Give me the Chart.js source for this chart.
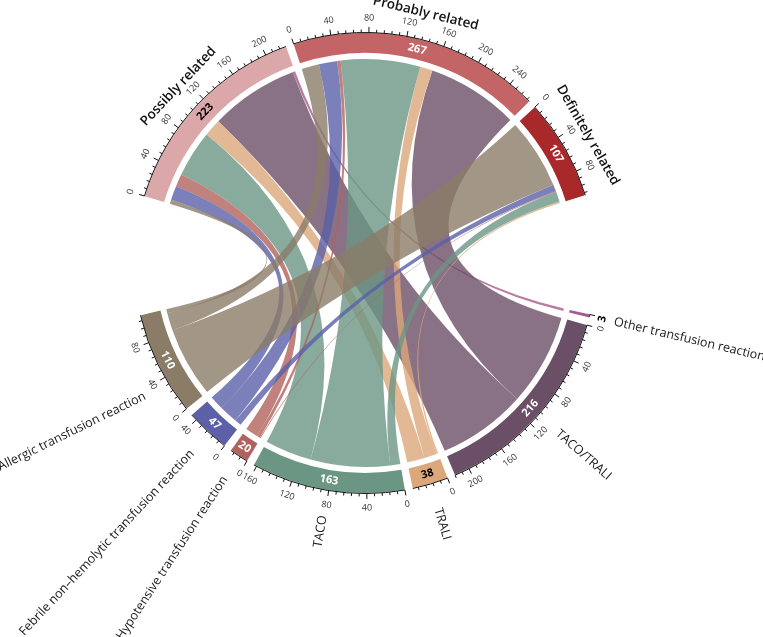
<!DOCTYPE html>
<html>
<head>
<meta charset="utf-8">
<script src="https://cdn.jsdelivr.net/npm/chart.js"></script>
<style>
  html, body { margin: 0; padding: 0; background: #ffffff; }
  #wrap { width: 763px; height: 637px; position: relative; }
</style>
</head>
<body>
<div id="wrap"><canvas id="chord"></canvas></div>
<script>
// ---------------- DATA ----------------
const reactionTypes = [
  'Other transfusion reaction',
  'TACO/TRALI',
  'TRALI',
  'TACO',
  'Hypotensive transfusion reaction',
  'Febrile non\u2013hemolytic transfusion reaction',
  'Allergic transfusion reaction'
];
const imputabilityLevels = ['Possibly related', 'Probably related', 'Definitely related'];

// number of reactions linking each imputability level to each reaction type (order of reactionTypes)
const possiblyRelated   = [3, 106, 21, 56, 15, 17, 5];
const probablyRelated   = [0, 110, 15, 95, 4, 22, 21];
const definitelyRelated = [0, 0, 2, 12, 1, 8, 84];

// axis ticks
const minorTickStep = 8;
const majorTickStep = 40;

// ---------------- STYLE ----------------
const reactionColors = ['#a65a8a', '#6b4f67', '#dca87b', '#6c9684', '#b2625d', '#5b60a9', '#8b7c68'];
const levelColors = ['#dca7a8', '#c36567', '#a9282a'];
const reactionCountColors = ['#000000', '#ffffff', '#000000', '#ffffff', '#ffffff', '#ffffff', '#ffffff'];
const levelCountColors = ['#000000', '#ffffff', '#ffffff'];
const reactionLabelShift = [0, 0, 0, 0, 0, 3, 22];
const ribbonAlpha = 0.8;

const SMALL_GAP_DEG = 2;
const BIG_GAP_DEG = 30;
const START_DEG = 12.9;

// ---------------- DERIVED ----------------
const matrix = [possiblyRelated, probablyRelated, definitelyRelated];
const reactionTotals = reactionTypes.map((_, j) => matrix.reduce((s, row) => s + row[j], 0));
const levelTotals = matrix.map(row => row.reduce((a, b) => a + b, 0));
const grandTotal = levelTotals.reduce((a, b) => a + b, 0);
const nSmallGaps = (reactionTypes.length - 1) + (imputabilityLevels.length - 1);
const degPerUnit = (360 - 2 * BIG_GAP_DEG - nSmallGaps * SMALL_GAP_DEG) / (2 * grandTotal);
const smallGapUnits = SMALL_GAP_DEG / degPerUnit;
const bigGapUnits = BIG_GAP_DEG / degPerUnit;

const slices = [];
reactionTypes.forEach((_, j) => {
  if (j) slices.push({ kind: 'gap', value: smallGapUnits });
  slices.push({ kind: 'reaction', index: j, value: reactionTotals[j] });
});
slices.push({ kind: 'gap', value: bigGapUnits });
imputabilityLevels.forEach((_, i) => {
  if (i) slices.push({ kind: 'gap', value: smallGapUnits });
  slices.push({ kind: 'level', index: i, value: levelTotals[i] });
});
slices.push({ kind: 'gap', value: bigGapUnits });

function hexA(hex, a) {
  const n = parseInt(hex.slice(1), 16);
  return 'rgba(' + ((n >> 16) & 255) + ',' + ((n >> 8) & 255) + ',' + (n & 255) + ',' + a + ')';
}
const TAU = Math.PI * 2;
function norm(a) { return ((a % TAU) + TAU) % TAU; }

function tangentText(ctx, cx, cy, r, a, text, font, color) {
  const px = cx + r * Math.cos(a), py = cy + r * Math.sin(a);
  const n = norm(a);
  const bottom = n > 0 && n < Math.PI;
  ctx.save();
  ctx.translate(px, py);
  ctx.rotate(bottom ? a - Math.PI / 2 : a + Math.PI / 2);
  ctx.font = font; ctx.fillStyle = color;
  ctx.textAlign = 'center'; ctx.textBaseline = 'middle';
  ctx.fillText(text, 0, 0);
  ctx.restore();
}
function radialText(ctx, cx, cy, r, a, text, font, color, shift) {
  const px = cx + r * Math.cos(a), py = cy + r * Math.sin(a);
  const right = Math.cos(a) >= 0;
  ctx.save();
  ctx.translate(px, py);
  ctx.rotate(right ? a : a + Math.PI);
  ctx.font = font; ctx.fillStyle = color;
  ctx.textAlign = right ? 'left' : 'right'; ctx.textBaseline = 'middle';
  ctx.fillText(text, 0, shift || 0);
  ctx.restore();
}

function sectorArcs(chart) {
  const arcs = chart.getDatasetMeta(0).data;
  const res = { reaction: [], level: [] };
  slices.forEach((s, k) => { if (s.kind !== 'gap') res[s.kind][s.index] = arcs[k]; });
  return res;
}

const chordPlugin = {
  id: 'chord',
  beforeDatasetsDraw(chart) {
    const ctx = chart.ctx;
    const sa = sectorArcs(chart);
    // sub-segments in level sectors: reactions in reverse order (clockwise)
    const levelSeg = matrix.map((row, i) => {
      const arc = sa.level[i];
      const span = arc.endAngle - arc.startAngle;
      let acc = 0; const seg = [];
      for (let j = reactionTypes.length - 1; j >= 0; j--) {
        const a1 = arc.startAngle + span * acc / levelTotals[i];
        acc += row[j];
        seg[j] = [a1, arc.startAngle + span * acc / levelTotals[i]];
      }
      return seg;
    });
    const reactSeg = reactionTypes.map((_, j) => {
      const arc = sa.reaction[j];
      const span = arc.endAngle - arc.startAngle;
      let acc = 0; const seg = [];
      for (let i = imputabilityLevels.length - 1; i >= 0; i--) {
        const b1 = arc.startAngle + span * acc / reactionTotals[j];
        acc += matrix[i][j];
        seg[i] = [b1, arc.startAngle + span * acc / reactionTotals[j]];
      }
      return seg;
    });
    const ref = sa.level[0];
    const cx = ref.x, cy = ref.y, rr = ref.innerRadius - 6;
    ctx.save();
    matrix.forEach((row, i) => {
      row.forEach((v, j) => {
        if (!v) return;
        const [a1, a2] = levelSeg[i][j];
        const [b1, b2] = reactSeg[j][i];
        ctx.beginPath();
        ctx.arc(cx, cy, rr, a1, a2);
        ctx.quadraticCurveTo(cx, cy, cx + rr * Math.cos(b1), cy + rr * Math.sin(b1));
        ctx.arc(cx, cy, rr, b1, b2);
        ctx.quadraticCurveTo(cx, cy, cx + rr * Math.cos(a1), cy + rr * Math.sin(a1));
        ctx.closePath();
        ctx.fillStyle = hexA(reactionColors[j], ribbonAlpha);
        ctx.fill();
      });
    });
    ctx.restore();
  },
  afterDatasetsDraw(chart) {
    const ctx = chart.ctx;
    const sa = sectorArcs(chart);
    const drawAxis = (arc, total, countColor) => {
      const { x: cx, y: cy, startAngle: s, endAngle: e, outerRadius: ro, innerRadius: ri } = arc;
      const ang = v => s + (e - s) * v / total;
      const tiny = (e - s) * ro < 14;
      ctx.save();
      ctx.strokeStyle = '#111'; ctx.lineWidth = 1;
      ctx.beginPath(); ctx.arc(cx, cy, ro + 0.5, s, e); ctx.stroke();
      for (let v = 0; v <= total; v += minorTickStep) {
        const a = ang(v), major = v % majorTickStep === 0;
        const r2 = ro + (major ? 6 : 3.5);
        ctx.beginPath();
        ctx.moveTo(cx + (ro + 0.5) * Math.cos(a), cy + (ro + 0.5) * Math.sin(a));
        ctx.lineTo(cx + r2 * Math.cos(a), cy + r2 * Math.sin(a));
        ctx.stroke();
        if (major && !tiny) tangentText(ctx, cx, cy, ro + 15, a, String(v), '9px "Open Sans"', '#333');
      }
      ctx.restore();
      const mid = (s + e) / 2;
      if (tiny) tangentText(ctx, cx, cy, ro + 14, mid, String(total), 'bold 11px "Open Sans"', '#000');
      else tangentText(ctx, cx, cy, (ri + ro) / 2, mid, String(total), 'bold 11px "Open Sans"', countColor);
    };
    reactionTypes.forEach((name, j) => {
      const arc = sa.reaction[j];
      drawAxis(arc, reactionTotals[j], reactionCountColors[j]);
      radialText(ctx, arc.x, arc.y, arc.outerRadius + 26, (arc.startAngle + arc.endAngle) / 2,
        name, '12.5px "Open Sans"', '#1a1a1a', reactionLabelShift[j]);
    });
    imputabilityLevels.forEach((name, i) => {
      const arc = sa.level[i];
      drawAxis(arc, levelTotals[i], levelCountColors[i]);
      tangentText(ctx, arc.x, arc.y, arc.outerRadius + 27, (arc.startAngle + arc.endAngle) / 2,
        name, '600 13.5px "Open Sans"', '#111');
    });
  }
};

new Chart(document.getElementById('chord'), {
  type: 'doughnut',
  data: {
    labels: slices.map(s => s.kind === 'gap' ? '' : (s.kind === 'reaction' ? reactionTypes[s.index] : imputabilityLevels[s.index])),
    datasets: [{
      data: slices.map(s => s.value),
      backgroundColor: slices.map(s => s.kind === 'gap' ? 'rgba(0,0,0,0)'
        : (s.kind === 'reaction' ? reactionColors[s.index] : levelColors[s.index])),
      borderWidth: 0,
      hoverOffset: 0
    }]
  },
  options: {
    responsive: true,
    maintainAspectRatio: false,
    animation: false,
    events: [],
    rotation: START_DEG + 90,
    radius: 230,
    cutout: (210 / 230 * 100) + '%',
    layout: { padding: { left: 0, top: 0, right: 33, bottom: 111 } },
    plugins: { legend: { display: false }, tooltip: { enabled: false } }
  },
  plugins: [chordPlugin]
});
</script>
</body>
</html>
